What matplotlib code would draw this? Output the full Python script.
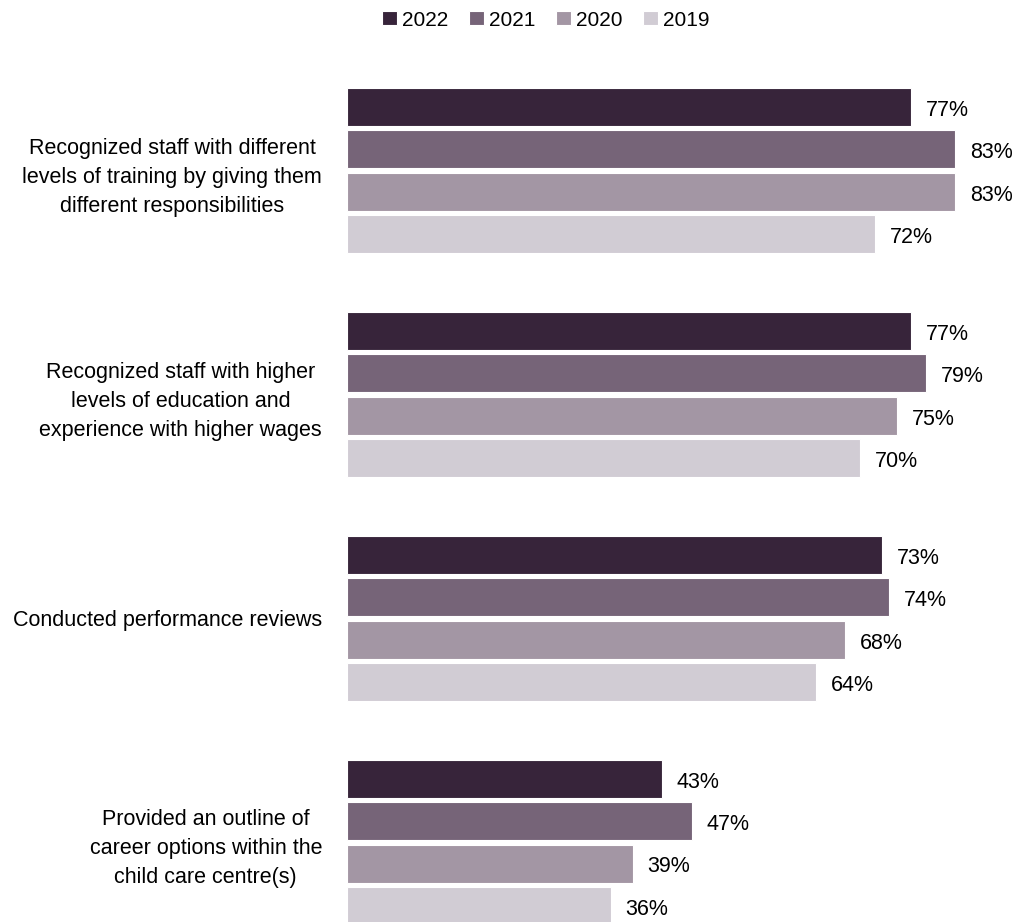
import matplotlib
matplotlib.use("Agg")
import matplotlib.pyplot as plt
from matplotlib import font_manager

names = {f.name for f in font_manager.fontManager.ttflist}
fam = ['Liberation Sans Narrow', 'Liberation Sans', 'DejaVu Sans']
fam = [f for f in fam if f in names] or ['DejaVu Sans']
plt.rcParams['font.family'] = fam

categories = [
    "Recognized staff with different\nlevels of training by giving them\ndifferent responsibilities",
    "Recognized staff with higher\nlevels of education and\nexperience with higher wages",
    "Conducted performance reviews",
    "Provided an outline of\ncareer options within the\nchild care centre(s)",
]
years = ["2022", "2021", "2020", "2019"]
values = {
    "2022": [77, 77, 73, 43],
    "2021": [83, 79, 74, 47],
    "2020": [83, 75, 68, 39],
    "2019": [72, 70, 64, 36],
}
colors = ["#37243a", "#766478", "#a396a4", "#d1ccd4"]

W, H = 1019, 922
fig = plt.figure(figsize=(W / 100, H / 100), dpi=100)
ax_left = 347 / W
ax_right = 1019 / W
top_px, bot_px = 88, 925
ax = fig.add_axes([ax_left, 1 - bot_px / H, ax_right - ax_left, (bot_px - top_px) / H])

group_pitch = 5.29
bar_h = 0.9
handles = []
for j, (yr, col) in enumerate(zip(years, colors)):
    ys = [g * group_pitch + j for g in range(len(categories))]
    b = ax.barh(ys, values[yr], height=bar_h, color=col, edgecolor='white', linewidth=0.8, label=yr)
    handles.append(b)
    for y, v in zip(ys, values[yr]):
        ax.text(v + 2.0, y + 0.08, f"{v}%", va='center', ha='left', fontsize=15.5, color='black')

ax.set_xlim(0, (1019 - 347) / 7.33)
ax.set_ylim(3 * group_pitch + 3 + bar_h / 2, -bar_h / 2)
centers = [g * group_pitch + 1.5 for g in range(len(categories))]
ax.set_yticks(centers)
ax.set_yticklabels(categories, fontsize=15.5, multialignment='center', linespacing=1.5)
ax.tick_params(axis='y', length=0, pad=18)
ax.set_xticks([])
for s in ax.spines.values():
    s.set_visible(False)

fig.legend(handles=handles, labels=years, loc='center', bbox_to_anchor=(546 / W, 1 - 20 / H),
           ncol=4, frameon=False, fontsize=15, handlelength=0.7, handleheight=0.7,
           handletextpad=0.25, columnspacing=1.0)

fig.savefig("out.png", dpi=100)
